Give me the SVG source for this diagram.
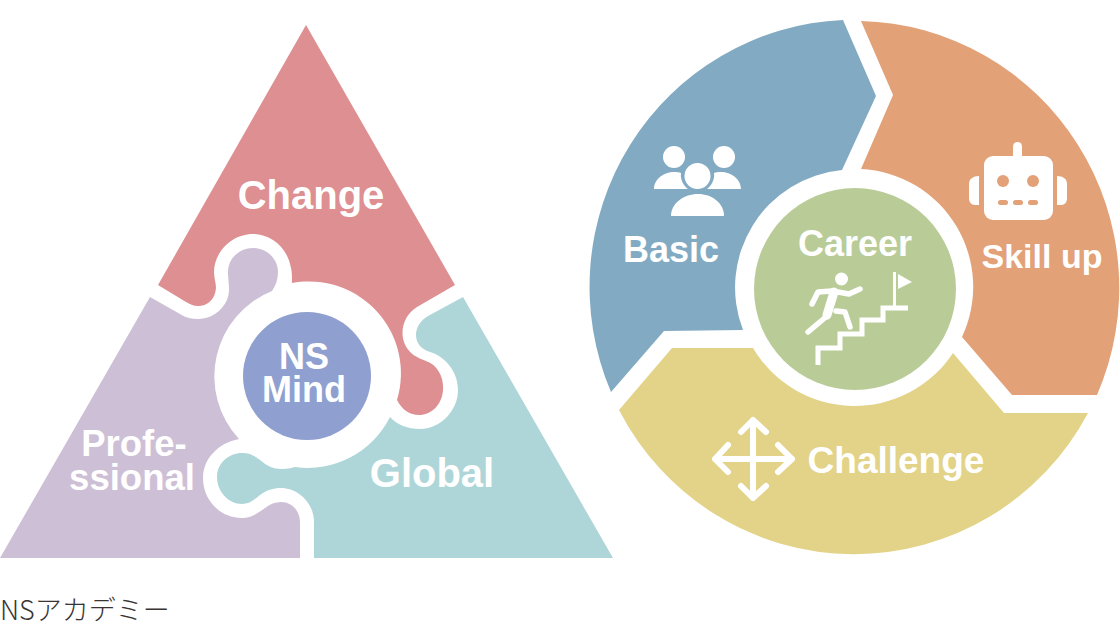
<svg xmlns="http://www.w3.org/2000/svg" width="1120" height="640" viewBox="0 0 1120 640">
<style>
text{font-family:"Liberation Sans",Arial,sans-serif;font-weight:700;fill:#fff;text-anchor:middle}
.w{fill:#fff}
.ws{fill:none;stroke:#fff;stroke-linecap:round;stroke-linejoin:round}
</style>
<rect width="1120" height="640" fill="#fff"/>
<g id="change"><path fill="#de8f91" d="M306 25L455 285L417 307C404 315 400 330 404 342C408 354 418 358 426 361C438 365 444 378 443 390C442 405 431 415 419 415C410 415 402 410 397 400A92 92 0 0 0 292 283C292 276 292 272 291 268C287 246 270 234 253 234C232 234 214 252 214 272C214 278 216 283 216 288C215 300 207 306 198 306C193 306 190 304 186 302L158 285Z"/><text x="311" y="209" font-size="40">Change</text></g>
<g id="professional"><path fill="#cdc0d6" d="M0 558L150 297L180 314C186 318 192 319 198 319C216 319 229 304 229 290C229 282 228 278 228 272C228 258 240 248 253 248C267 248 278 259 278 272C278 279 276 285 272 291A92 92 0 0 0 239 439C218 443 203 459 203 478C203 500 220 518 242 518C251 518 258 513 265 508C270 504 275 502 281 502C292 502 300 511 300 522L300 558Z"/><text x="134" y="456" font-size="36.500">Profe-</text><text x="132" y="490" font-size="36.500">ssional</text></g>
<g id="global"><path fill="#aed6d8" d="M613 558L314 558L314 522C314 503 298 488 281 488C273 488 267 490 260 495C254 500 249 504 242 504C228 504 217 491 217 477C217 463 229 453 242 453C250 453 255 456 260 460C267 466 273 469 282 469C287 469 291 468 295 467A92 92 0 0 0 390 417C397 425 408 429 420 429C440 429 458 411 458 390C458 372 446 357 430 352C421 349 416 343 416 335C416 327 421 320 428 316L463 297Z"/><text x="432" y="487" font-size="40">Global</text></g>
<g id="nsmind"><circle cx="307" cy="376" r="64" fill="#8f9fd0"/><text x="304" y="369" font-size="36">NS</text><text x="304" y="402" font-size="36">Mind</text></g>
<g id="basic"><path fill="#82abc3" d="M843 20L876 96L842 170A118 118 0 0 0 743 330L664 331L611 392A265 267 0 0 1 843 20Z"/>
<g class="w"><circle cx="674" cy="157" r="11"/><circle cx="724" cy="157" r="11"/><circle cx="697.500" cy="176" r="13"/><path d="M654 189C654 179 664 172 674 172C677 172 679 172 681 173C680 180 684 186 688 189Z"/><path d="M741 189C741 179 731 172 721 172C718 172 716 172 714 173C715 180 711 186 707 189Z"/><path d="M671 216C671 203 684 194 698 194C712 194 724 203 724 216Z"/></g>
<text x="671" y="262" font-size="36">Basic</text></g>
<g id="skillup"><path fill="#e3a177" d="M861 21A265 267 0 0 1 1097 395L1012 395L962 337A118 118 0 0 0 861 169L893 95Z"/>
<g class="w"><rect x="984" y="156" width="69" height="64" rx="9"/><rect x="1013" y="142" width="9" height="20" rx="4.500"/><path d="M979 176V205H975C971 205 969 202 969 198V184C969 179 973 176 979 176Z"/><path d="M1057 176V205H1061C1065 205 1067 202 1067 198V184C1067 179 1063 176 1057 176Z"/></g>
<g fill="#e3a177"><circle cx="1003" cy="181" r="6"/><circle cx="1033" cy="181" r="6"/><rect x="998" y="200" width="10" height="5" rx="2.500"/><rect x="1013" y="200" width="10" height="5" rx="2.500"/><rect x="1028" y="200" width="10" height="5" rx="2.500"/></g>
<text x="1042" y="268" font-size="34">Skill up</text></g>
<g id="challenge"><path fill="#e2d388" d="M753 348L672 348L619 410A265 267 0 0 0 1088 413L1004 413L953 353A118 118 0 0 1 753 348Z"/>
<g class="ws" stroke-width="6"><path d="M753 420V498M715 459H792M741 432L753 420L766 432M741 486L753 498L766 486M728 445L715 459L728 472M778 445L792 459L778 472"/></g>
<text x="896" y="473" font-size="37">Challenge</text></g>
<g id="career"><circle cx="855" cy="289" r="101" fill="#b9cc98"/><text x="855" y="256" font-size="36">Career</text>
<circle cx="841.500" cy="279" r="6.500" class="w"/>
<path class="ws" stroke-width="9" d="M834 292L827 315"/>
<g class="ws" stroke-width="5.500"><path d="M827 316L808 332M832 291L818 292L812 304M838 292L849 294L860 289M836 311L845 312L850 327"/></g>
<path fill="none" stroke="#fff" stroke-width="5" d="M818 365V348H840V334H862V320H883V308H908"/><path fill="none" stroke="#fff" stroke-width="3" d="M894.500 308V272"/><path class="w" d="M898 274L912 282L898 289Z"/></g>
<text x="0" y="620" font-size="27" style="font-family:'Noto Sans CJK JP',sans-serif;font-weight:300;fill:#3a3433;text-anchor:start">NSアカデミー</text>
</svg>
